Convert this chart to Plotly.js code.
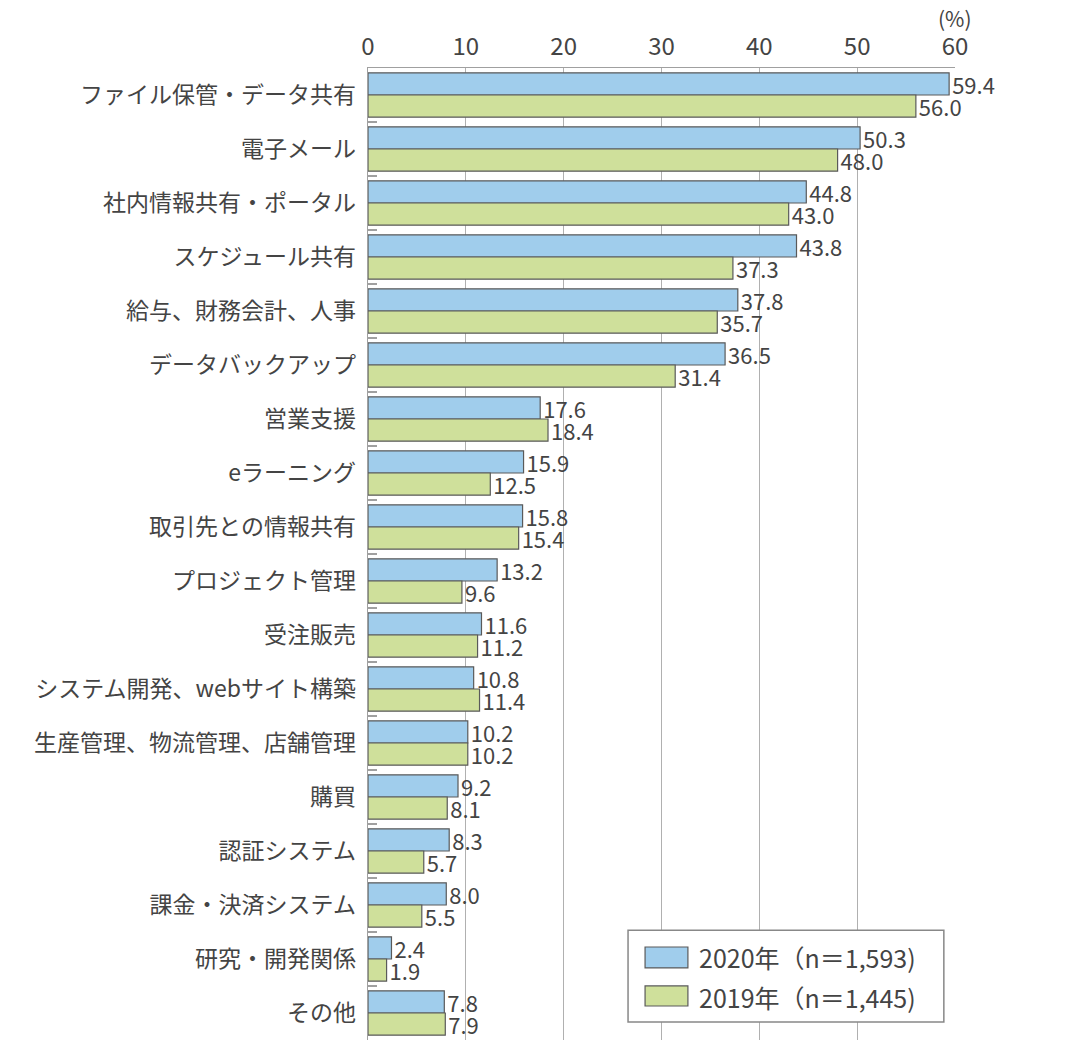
<!DOCTYPE html>
<html><head><meta charset="utf-8">
<script src="https://cdn.plot.ly/plotly-3.0.1.min.js"></script>
<style>body{margin:0;background:#fff}#c{width:1080px;height:1048px}</style>
</head><body><div id="c"></div>
<script>
const categories = ["ファイル保管・データ共有","電子メール","社内情報共有・ポータル","スケジュール共有","給与、財務会計、人事","データバックアップ","営業支援","eラーニング","取引先との情報共有","プロジェクト管理","受注販売","システム開発、webサイト構築","生産管理、物流管理、店舗管理","購買","認証システム","課金・決済システム","研究・開発関係","その他"];
const values2020 = [59.4,50.3,44.8,43.8,37.8,36.5,17.6,15.9,15.8,13.2,11.6,10.8,10.2,9.2,8.3,8.0,2.4,7.8];
const values2019 = [56.0,48.0,43.0,37.3,35.7,31.4,18.4,12.5,15.4,9.6,11.2,11.4,10.2,8.1,5.7,5.5,1.9,7.9];
const seriesNames = ["2020年（n＝1,593)","2019年（n＝1,445)"];
const seriesColors = ['#a0cdec', '#cfe09b'];
const xTicks = [0,10,20,30,40,50,60];

const font = "'Noto Sans CJK JP', 'Noto Sans', sans-serif";
const edge = '#5a5a5a';
const mk = (vals, name, color) => ({
  type:'bar', orientation:'h', y:categories, x:vals, name:name,
  marker:{color:color, line:{color:edge, width:1.2}},
  text: vals.map(v=>v.toFixed(1)), textposition:'outside', cliponaxis:false,
  constraintext:'none',
  textfont:{family:font, size:22, color:'#444'}, hoverinfo:'none'
});
const data = [mk(values2020, seriesNames[0], seriesColors[0]), mk(values2019, seriesNames[1], seriesColors[1])];

// legend drawn as a box with swatches (paper coordinates)
const legendRows = [{y0:0.0741, y1:0.0957, ty:0.0849}, {y0:0.035, y1:0.0556, ty:0.0447}];
const shapes = [{type:'rect', xref:'paper', yref:'paper', x0:0.443, x1:0.981, y0:0.0185, y1:0.113,
  line:{color:'#888', width:1.5}, fillcolor:'#fff', layer:'above'}];
const annotations = [{xref:'paper', yref:'paper', x:1.0, y:1.0, yshift:33, xanchor:'center', yanchor:'bottom',
    text:'(%)', showarrow:false, font:{family:font, size:21, color:'#444'}}];
legendRows.forEach((r,i)=>{
  shapes.push({type:'rect', xref:'paper', yref:'paper', x0:0.472, x1:0.545, y0:r.y0, y1:r.y1,
    line:{color:edge, width:1.2}, fillcolor:seriesColors[i], layer:'above'});
  annotations.push({xref:'paper', yref:'paper', x:0.561, y:r.ty, xanchor:'left', yanchor:'middle',
    text:seriesNames[i], showarrow:false, font:{family:font, size:25, color:'#444'}});
});

const layout = {
  width:1080, height:1048,
  margin:{l:368, r:125, t:68, b:8},
  barmode:'group', bargap:0.18, bargroupgap:0,
  paper_bgcolor:'#fff', plot_bgcolor:'#fff',
  showlegend:false,
  xaxis:{side:'top', range:[0,60], tickvals:xTicks, ticktext:xTicks.map(String),
    showgrid:true, gridcolor:'#b0b0b0', gridwidth:1.2, zeroline:false,
    showline:true, linecolor:'#a0a0a0', linewidth:1.5, ticks:'', ticklabelstandoff:2,
    tickfont:{family:font, size:24, color:'#444'}, fixedrange:true},
  yaxis:{autorange:'reversed', type:'category', showline:true, linecolor:'#a0a0a0', linewidth:1.5,
    ticks:'inside', tickson:'boundaries', ticklen:9, tickcolor:'#a0a0a0', tickwidth:1.5,
    showgrid:false, zeroline:false, ticklabelstandoff:6,
    tickfont:{family:font, size:23, color:'#444'}, fixedrange:true},
  shapes:shapes,
  annotations:annotations
};
Plotly.newPlot('c', data, layout, {displayModeBar:false, staticPlot:true});
</script></body></html>
